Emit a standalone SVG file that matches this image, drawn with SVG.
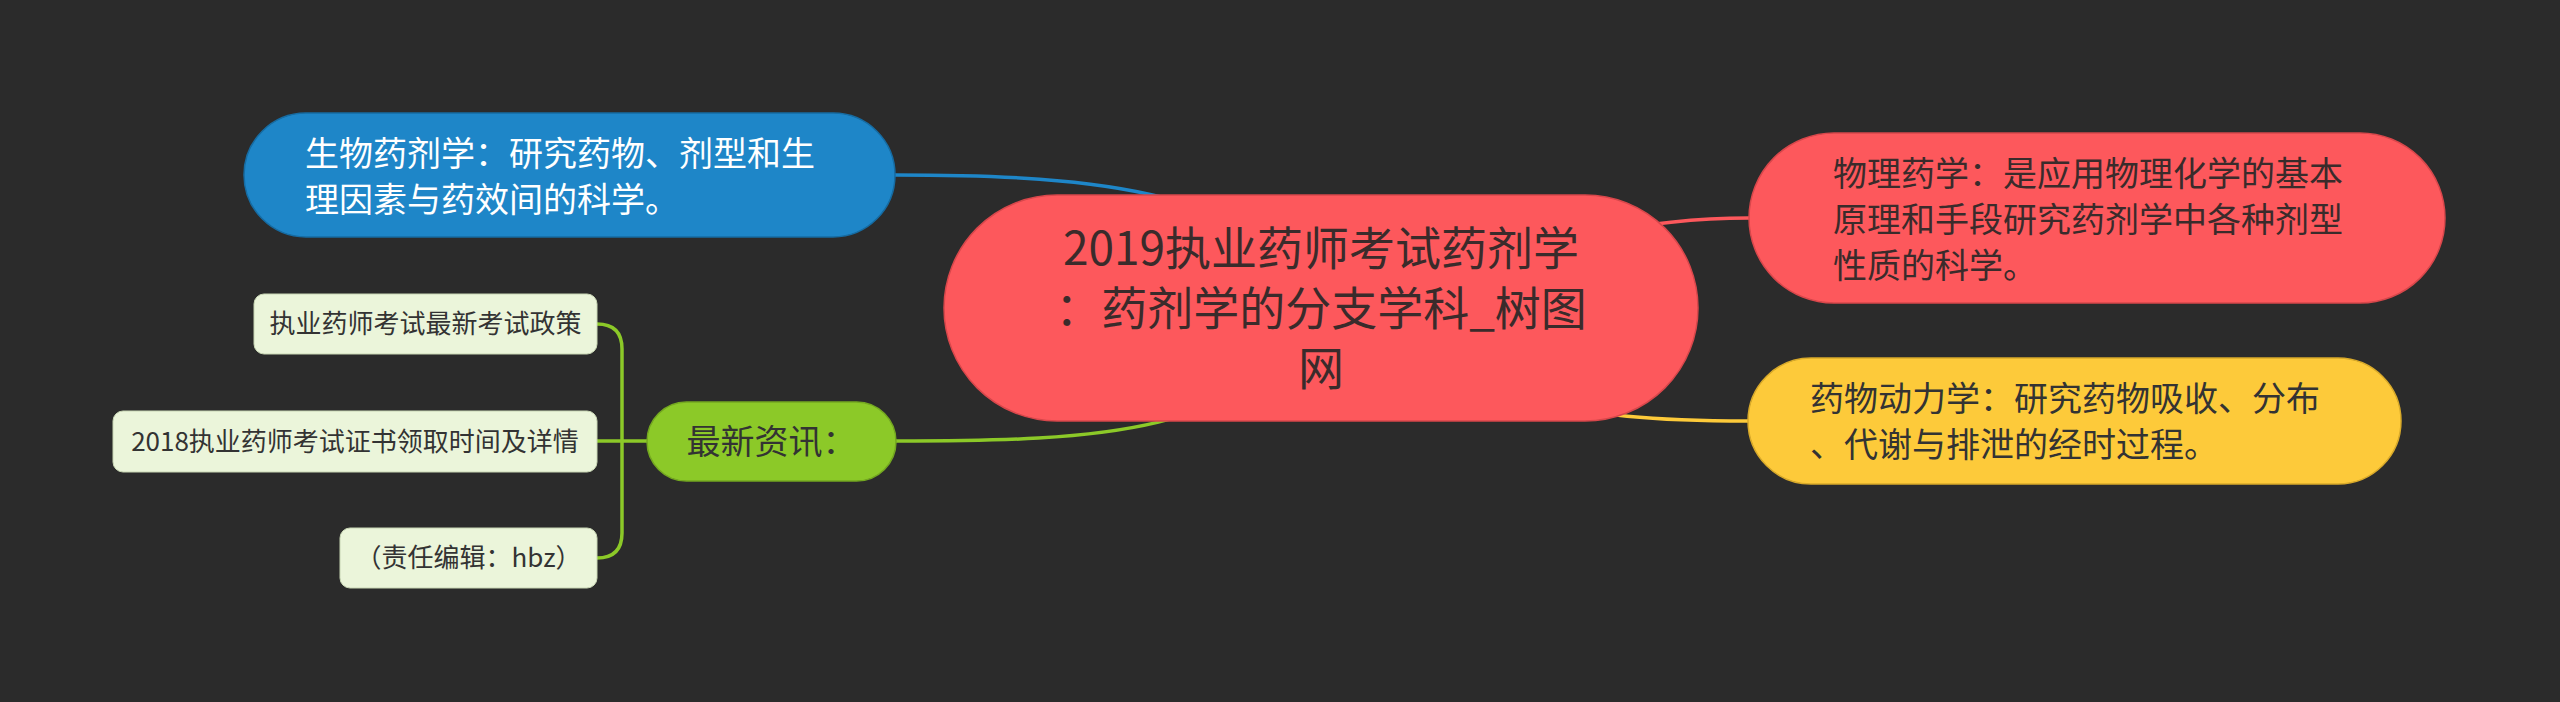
<svg xmlns="http://www.w3.org/2000/svg" width="2560" height="702" viewBox="0 0 2560 702">
<style>
text{font-family:"Noto Sans CJK SC","Noto Sans",sans-serif;}
.c{font-size:46px;fill:#3a2b2b;text-anchor:middle;}
.l1{font-size:34px;}
.s{font-size:26px;fill:#333;text-anchor:middle;}
.ln{fill:none;stroke-width:3.5;stroke-linecap:round;}
</style>
<rect x="0" y="0" width="2560" height="702" fill="#2b2b2b"/>
<g id="connectors">
<path class="ln" stroke="#1e86c8" d="M895,175 C1100,175 1260,190 1321,308"/>
<path class="ln" stroke="#fd585c" d="M1749,218 C1600,218 1500,260 1321,308"/>
<path class="ln" stroke="#fdca3a" d="M1748,421 C1560,421 1500,400 1321,308"/>
<path class="ln" stroke="#8cc928" d="M896,441 C1100,441 1250,435 1321,308"/>
<path class="ln" stroke="#8cc928" d="M597,324 Q622,324 622,349 L622,533 Q622,558 597,558"/>
<path class="ln" stroke="#8cc928" d="M597,441 L647,441"/>
</g>
<g id="central">
<rect x="944" y="195" width="754" height="226" rx="113" fill="#fd585c" stroke="#d8474b" stroke-width="1.5"/>
<text class="c" x="1321" y="265">2019执业药师考试药剂学</text>
<text class="c" x="1321" y="325">：药剂学的分支学科_树图</text>
<text class="c" x="1321" y="385">网</text>
</g>
<g id="n-bio">
<rect x="244" y="113" width="651" height="124" rx="62" fill="#1e86c8" stroke="#166ca3" stroke-width="1.5"/>
<text class="l1" x="305" y="166" fill="#ffffff">生物药剂学：研究药物、剂型和生</text>
<text class="l1" x="305" y="212" fill="#ffffff">理因素与药效间的科学。</text>
</g>
<g id="n-phys">
<rect x="1749" y="133" width="696" height="170" rx="85" fill="#fd585c" stroke="#d8474b" stroke-width="1.5"/>
<text class="l1" x="1833" y="186" fill="#3a2b2b">物理药学：是应用物理化学的基本</text>
<text class="l1" x="1833" y="232" fill="#3a2b2b">原理和手段研究药剂学中各种剂型</text>
<text class="l1" x="1833" y="278" fill="#3a2b2b">性质的科学。</text>
</g>
<g id="n-pk">
<rect x="1748" y="358" width="653" height="126" rx="63" fill="#fdca3a" stroke="#d9aa2a" stroke-width="1.5"/>
<text class="l1" x="1810" y="411" fill="#333">药物动力学：研究药物吸收、分布</text>
<text class="l1" x="1810" y="457" fill="#333">、代谢与排泄的经时过程。</text>
</g>
<g id="n-news">
<rect x="647" y="402" width="249" height="79" rx="39.5" fill="#8cc928" stroke="#74a820" stroke-width="1.5"/>
<text class="l1" x="771.5" y="454" fill="#333" text-anchor="middle">最新资讯：</text>
</g>
<g id="n-a">
<rect x="254" y="294" width="343" height="60" rx="10" fill="#ebf5da" stroke="#c8d6b4" stroke-width="1"/>
<text class="s" x="425.5" y="333">执业药师考试最新考试政策</text>
</g>
<g id="n-b">
<rect x="113" y="411" width="484" height="61" rx="10" fill="#ebf5da" stroke="#c8d6b4" stroke-width="1"/>
<text class="s" x="355" y="451">2018执业药师考试证书领取时间及详情</text>
</g>
<g id="n-c">
<rect x="340" y="528" width="257" height="60" rx="10" fill="#ebf5da" stroke="#c8d6b4" stroke-width="1"/>
<text class="s" x="468.5" y="567">（责任编辑：hbz）</text>
</g>
</svg>
